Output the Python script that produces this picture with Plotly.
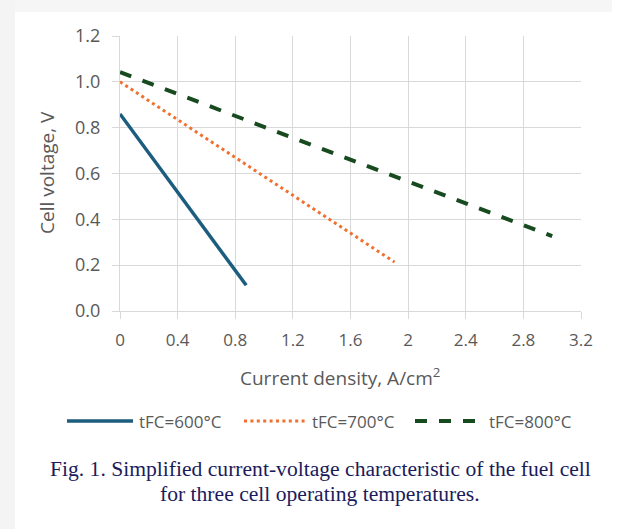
import plotly.graph_objects as go

# ---- data ----
series_names = ["tFC=600°C", "tFC=700°C", "tFC=800°C"]
current_600 = [0.0, 0.876]
voltage_600 = [0.86, 0.112]
current_700 = [0.0, 1.906]
voltage_700 = [1.0, 0.2135]
current_800 = [0.0, 3.0]
voltage_800 = [1.042, 0.327]

x_ticks = [0, 0.4, 0.8, 1.2, 1.6, 2.0, 2.4, 2.8, 3.2]
x_tick_labels = ["0", "0.4", "0.8", "1.2", "1.6", "2", "2.4", "2.8", "3.2"]
y_ticks = [0.0, 0.2, 0.4, 0.6, 0.8, 1.0, 1.2]
y_tick_labels = ["0.0", "0.2", "0.4", "0.6", "0.8", "1.0", "1.2"]

x_title = "Current density, A/cm<sup>2</sup>"
y_title = "Cell voltage, V"
caption_lines = ["Fig. 1. Simplified current-voltage characteristic of the fuel cell",
                 "for three cell operating temperatures."]

# ---- styles ----
colors = ["#1c5d7e", "#f0712f", "#174a1f"]
widths = [3.5, 3, 4]
dashes = ["solid", "3px,3.4px", "12px,12px"]
grid = "#d9d9d9"
txt = "#595959"
font_family = "Open Sans, Lato, Liberation Sans, sans-serif"

W, H = 620, 529
ml, mr, mt, mb = 120, 39, 36, 218
pw, ph = W - ml - mr, H - mt - mb


def fx(px):
    return (px - ml) / pw


def fy(py):
    return (H - mb - py) / ph


fig = go.Figure()
xs = [current_600, current_700, current_800]
ys = [voltage_600, voltage_700, voltage_800]
for name, x, y, c, w, d in zip(series_names, xs, ys, colors, widths, dashes):
    fig.add_trace(go.Scatter(x=x, y=y, mode="lines", name=name,
                             line=dict(color=c, width=w, dash=d),
                             showlegend=False, hoverinfo="x+y+name"))

shapes = []
# light gray page frame
shapes.append(dict(type="rect", xref="paper", yref="paper", layer="below",
                   x0=fx(0), x1=fx(15), y0=fy(H), y1=fy(0),
                   fillcolor="#f4f4f4", line=dict(width=0)))
shapes.append(dict(type="rect", xref="paper", yref="paper", layer="below",
                   x0=fx(15), x1=fx(612), y0=fy(12), y1=fy(0),
                   fillcolor="#f6f6f6", line=dict(width=0)))

# manual legend
leg_y = 421
leg_items = [(67, 133, 137), (244, 305, 310), (415, 483, 487)]
annotations = []
for (x0, x1, xt), name, c, w, d in zip(leg_items, series_names, colors, widths, dashes):
    shapes.append(dict(type="line", xref="paper", yref="paper",
                       x0=fx(x0), x1=fx(x1), y0=fy(leg_y), y1=fy(leg_y),
                       line=dict(color=c, width=w, dash=d)))
    annotations.append(dict(text=name, xref="paper", yref="paper",
                            x=fx(xt), y=fy(leg_y), xanchor="left", yanchor="middle",
                            showarrow=False, font=dict(size=17, color=txt, family=font_family)))

annotations.append(dict(text=y_title, xref="paper", yref="paper", x=fx(47), y=fy(173),
                        textangle=-90, xanchor="center", yanchor="middle", showarrow=False,
                        font=dict(size=19, color=txt, family=font_family)))
annotations.append(dict(text=x_title, xref="paper", yref="paper", x=fx(340), y=fy(377),
                        xanchor="center", yanchor="middle", showarrow=False,
                        font=dict(size=19, color=txt, family=font_family)))
for line, py in zip(caption_lines, [469, 494]):
    annotations.append(dict(text=line, xref="paper", yref="paper", x=fx(320), y=fy(py),
                            xanchor="center", yanchor="middle", showarrow=False,
                            font=dict(size=21.6, color="#1b1b5c",
                                      family="Liberation Serif, Times New Roman, serif")))

fig.update_layout(
    width=W, height=H,
    margin=dict(l=ml, r=mr, t=mt, b=mb, pad=0),
    paper_bgcolor="white", plot_bgcolor="white",
    showlegend=False,
    shapes=shapes, annotations=annotations,
    font=dict(family=font_family, color=txt),
    xaxis=dict(range=[0, 3.2], tickmode="array", tickvals=x_ticks, ticktext=x_tick_labels,
               showgrid=True, gridcolor=grid, gridwidth=1.3,
               showline=True, linecolor=grid, linewidth=1.3,
               ticks="outside", ticklen=7, tickcolor=grid, tickwidth=1.3,
               ticklabelstandoff=6,
               tickfont=dict(size=17, color=txt), zeroline=False, fixedrange=True),
    yaxis=dict(range=[0, 1.2], tickmode="array", tickvals=y_ticks, ticktext=y_tick_labels,
               showgrid=True, gridcolor=grid, gridwidth=1.3,
               showline=True, linecolor=grid, linewidth=1.3,
               ticks="outside", ticklen=7, tickcolor=grid, tickwidth=1.3,
               ticklabelstandoff=8,
               tickfont=dict(size=18, color=txt), zeroline=False, fixedrange=True),
)

fig.write_html("out.html", config=dict(displayModeBar=False))
